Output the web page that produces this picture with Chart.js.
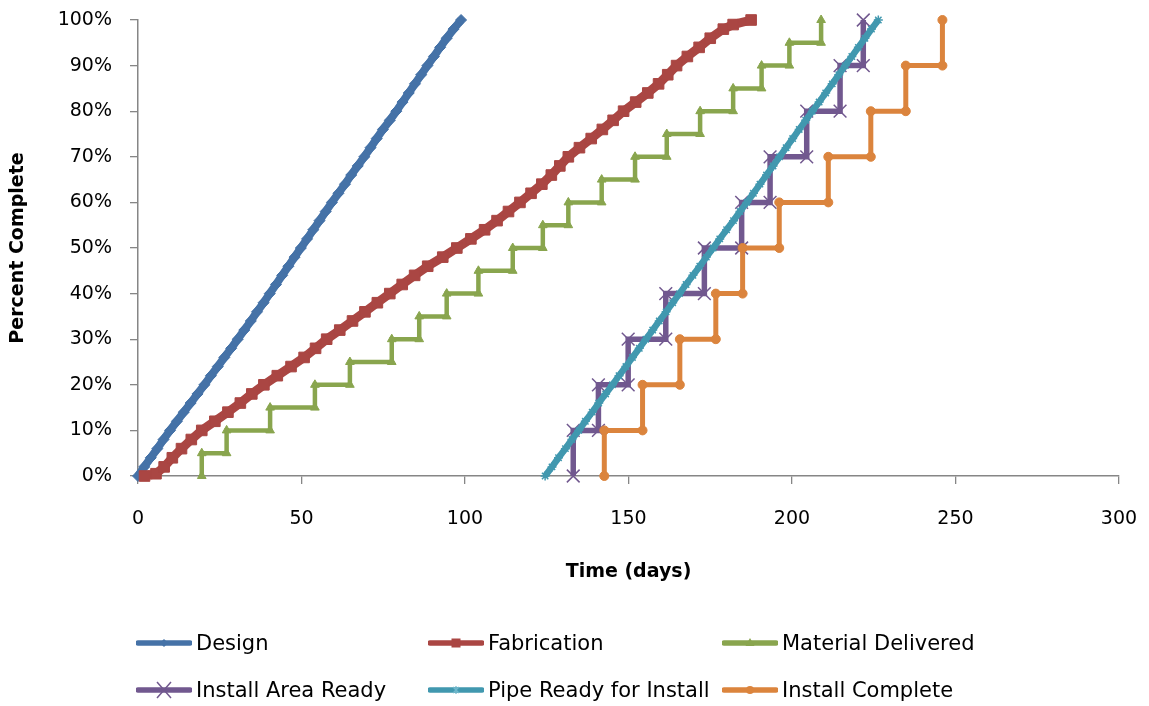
<!DOCTYPE html>
<html>
<head>
<meta charset="utf-8">
<script src="https://cdn.jsdelivr.net/npm/chart.js@4/dist/chart.umd.min.js"></script>
<style>
  html, body { margin: 0; padding: 0; background: #fff; }
  #wrap { position: relative; width: 1149px; height: 706px; overflow: hidden; }
  #c { position: absolute; left: 0; top: 0; }
  .lg { position: absolute; height: 24px; display: flex; align-items: center; font-family: "DejaVu Sans", sans-serif; font-size: 21px; color: #000; white-space: nowrap; }
  .lg svg { margin-right: 4px; }
</style>
</head>
<body>
<div id="wrap">
  <canvas id="c" width="1149" height="706"></canvas>
  <div id="legend"></div>
</div>
<script>
// ---------------- DATA ----------------
const seriesNames = ["Design", "Fabrication", "Material Delivered", "Install Area Ready", "Pipe Ready for Install", "Install Complete"];
const seriesColors = ["#4572A7", "#AA4643", "#89A54E", "#71588F", "#4198AF", "#DB843D"];

// Design: percent complete vs day
const designPct = [0,2,4,6,8,10,12,14,16,18,20,22,24,26,28,30,32,34,36,38,40,42,44,46,48,50,52,54,56,58,60,62,64,66,68,70,72,74,76,78,80,82,84,86,88,90,92,94,96,98,100];
const designDay = [0,1.9,3.9,5.9,7.8,9.8,11.9,14.0,16.1,18.2,20.3,22.3,24.4,26.4,28.5,30.5,32.5,34.5,36.4,38.4,40.3,42.2,44.1,46.0,47.9,49.8,51.7,53.6,55.5,57.4,59.3,61.3,63.3,65.2,67.2,69.2,71.1,73.0,74.9,77.0,79.0,80.9,82.8,84.7,86.6,88.5,90.5,92.4,94.4,96.5,98.8];

// Fabrication
const fabPct = [0,0.5,2,4,6,8,10,12,14,16,18,20,22,24,26,28,30,32,34,36,38,40,42,44,46,48,50,52,54,56,58,60,62,64,66,68,70,72,74,76,78,80,82,84,86,88,90,92,94,96,98,99,100];
const fabDay = [2.0,5.5,8.0,10.5,13.3,16.3,19.5,23.5,27.5,31.3,34.8,38.5,42.6,46.8,50.8,54.3,57.7,61.7,65.6,69.4,73.2,77.0,80.8,84.6,88.6,93.2,97.5,101.8,106.0,109.8,113.3,116.8,120.2,123.5,126.4,129.0,131.6,135.0,138.6,142.0,145.3,148.5,152.2,155.9,159.2,162.0,164.7,168.0,171.6,175.0,179.0,182.0,187.5];

// Material Delivered (step days and levels)
const matStepDay = [19.5,27.1,40.4,54.1,64.8,77.6,86.0,94.4,104.1,114.6,123.8,131.6,141.8,152.0,161.7,171.9,182.0,190.7,199.2,208.9];
const matLevel = [5,10,15,20,25,30,35,40,45,50,55,60,65,70,75,80,85,90,95,100];

// Install Area Ready
const areaStepDay = [133.1,140.8,149.9,161.4,173.2,184.6,193.3,204.5,214.7,221.8];
const areaLevel = [10,20,30,40,50,60,70,80,90,100];

// Pipe Ready for Install
const pipePct = [0,2,4,6,8,10,12,14,16,18,20,22,24,26,28,30,32,34,36,38,40,42,44,46,48,50,52,54,56,58,60,62,64,66,68,70,72,74,76,78,80,82,84,86,88,90,92,94,96,98,100];
const pipeDay = [124.5,126.6,128.6,130.7,132.7,134.8,136.8,138.9,140.9,143.0,145.1,147.1,149.2,151.2,153.3,155.3,157.4,159.4,161.5,163.5,165.6,167.6,169.7,171.8,173.8,175.9,177.9,180.0,182.1,184.1,186.2,188.2,190.2,192.2,194.2,196.2,198.2,200.2,202.2,204.2,206.2,208.3,210.3,212.3,214.3,216.3,218.3,220.3,222.3,224.3,226.4];

// Install Complete
const compStepDay = [142.6,154.3,165.7,176.7,184.9,196.1,211.1,224.1,234.8,246.0];
const compLevel = [10,20,30,40,50,60,70,80,90,100];

// Axis ticks
const xTickStep = 50, xMin = 0, xMax = 300;
const yTickStep = 10, yMin = 0, yMax = 100;

// ---------------- BUILD ----------------
function pairs(days, pcts) { return days.map((d, i) => ({ x: d, y: pcts[i] })); }
function steps(days, levels) {
  const out = []; let prev = 0;
  days.forEach((d, i) => { out.push({ x: d, y: prev }); out.push({ x: d, y: levels[i] }); prev = levels[i]; });
  return out;
}

const FONT = "'DejaVu Sans', sans-serif";
const datasets = [
  { label: seriesNames[0], data: pairs(designDay, designPct), borderColor: seriesColors[0], backgroundColor: seriesColors[0],
    borderWidth: 8, pointStyle: 'rectRot', pointRadius: 5.5, pointBorderWidth: 1, order: 6 },
  { label: seriesNames[1], data: pairs(fabDay, fabPct), borderColor: seriesColors[1], backgroundColor: seriesColors[1],
    borderWidth: 9, pointStyle: 'rect', pointRadius: 7.5, pointBorderWidth: 1, order: 5 },
  { label: seriesNames[2], data: steps(matStepDay, matLevel), borderColor: seriesColors[2], backgroundColor: seriesColors[2],
    borderWidth: 4.5, pointStyle: 'triangle', pointRadius: 5, pointBorderWidth: 1, order: 4 },
  { label: seriesNames[3], data: steps(areaStepDay, areaLevel), borderColor: seriesColors[3], backgroundColor: seriesColors[3],
    borderWidth: 5.5, pointStyle: 'crossRot', pointRadius: 9, pointBorderWidth: 1.5, order: 3 },
  { label: seriesNames[4], data: pairs(pipeDay, pipePct), borderColor: seriesColors[4], backgroundColor: seriesColors[4],
    borderWidth: 6.5, pointStyle: 'star', pointRadius: 4.5, pointBorderWidth: 1.5, order: 2 },
  { label: seriesNames[5], data: steps(compStepDay, compLevel), borderColor: seriesColors[5], backgroundColor: seriesColors[5],
    borderWidth: 5, pointStyle: 'circle', pointRadius: 4.5, pointBorderWidth: 1, order: 1 }
];
datasets.forEach(d => { d.showLine = true; d.fill = false; d.tension = 0; d.clip = false; d.pointHoverRadius = d.pointRadius; });

new Chart(document.getElementById('c'), {
  type: 'scatter',
  data: { datasets },
  options: {
    responsive: false,
    devicePixelRatio: 1,
    animation: false,
    layout: { padding: { left: 0, top: 20, right: 30, bottom: 120 } },
    plugins: { legend: { display: false }, tooltip: { enabled: false } },
    scales: {
      x: {
        type: 'linear', min: xMin, max: xMax,
        ticks: { stepSize: xTickStep, color: '#000', font: { family: FONT, size: 19 }, padding: 24, maxRotation: 0 },
        grid: { drawOnChartArea: false, drawTicks: true, tickLength: 8, color: '#868686', lineWidth: 1.3 },
        border: { color: '#868686', width: 1.5 },
        title: { display: true, text: 'Time (days)', color: '#000', font: { family: FONT, size: 19, weight: 'bold' }, padding: { top: 0, bottom: 3 } },
        afterFit: s => { s.height = 110; s.paddingLeft = 10; s.paddingRight = 20; }
      },
      y: {
        type: 'linear', min: yMin, max: yMax,
        ticks: { stepSize: yTickStep, color: '#000', font: { family: FONT, size: 19 }, padding: 18, callback: v => v + '%' },
        grid: { drawOnChartArea: false, drawTicks: true, tickLength: 8, color: '#868686', lineWidth: 1.3 },
        border: { color: '#868686', width: 1.5 },
        title: { display: true, text: 'Percent Complete', color: '#000', font: { family: FONT, size: 19, weight: 'bold' }, padding: { top: 7, bottom: 0 } },
        afterFit: s => { s.width = 138; s.paddingTop = 11; s.paddingBottom = 11; }
      }
    }
  }
});

// ---------------- HTML LEGEND ----------------
function markerSvg(i, c) {
  const cx = 28, cy = 12;
  switch (i) {
    case 0: return `<polygon points="${cx},${cy-4} ${cx+4},${cy} ${cx},${cy+4} ${cx-4},${cy}" fill="${c}"/>`;
    case 1: return `<rect x="${cx-4.5}" y="${cy-4.5}" width="9" height="9" fill="${c}"/>`;
    case 2: return `<polygon points="${cx},${cy-5} ${cx+4.5},${cy+3} ${cx-4.5},${cy+3}" fill="${c}"/>`;
    case 3: return `<path d="M${cx-7},${cy-8} L${cx+7},${cy+8} M${cx+7},${cy-8} L${cx-7},${cy+8}" stroke="${c}" stroke-width="1.5"/>`;
    case 4: return `<path d="M${cx-3},${cy-3} L${cx+3},${cy+3} M${cx+3},${cy-3} L${cx-3},${cy+3} M${cx},${cy-4} L${cx},${cy+4}" stroke="#6fb8cc" stroke-width="1.2"/>`;
    case 5: return `<circle cx="${cx}" cy="${cy}" r="4" fill="${c}"/>`;
  }
  return '';
}
const legendCols = [136, 428, 722];
const legendRows = [643, 690];
const lg = document.getElementById('legend');
seriesNames.forEach((name, i) => {
  const col = i % 3, row = Math.floor(i / 3);
  const c = seriesColors[i];
  const div = document.createElement('div');
  div.className = 'lg';
  div.style.left = legendCols[col] + 'px';
  div.style.top = (legendRows[row] - 12) + 'px';
  div.innerHTML = `<svg width="56" height="24" viewBox="0 0 56 24"><line x1="2" y1="12" x2="54" y2="12" stroke="${c}" stroke-width="5.5" stroke-linecap="round"/>${markerSvg(i, c)}</svg><span>${name}</span>`;
  lg.appendChild(div);
});
</script>
</body>
</html>
